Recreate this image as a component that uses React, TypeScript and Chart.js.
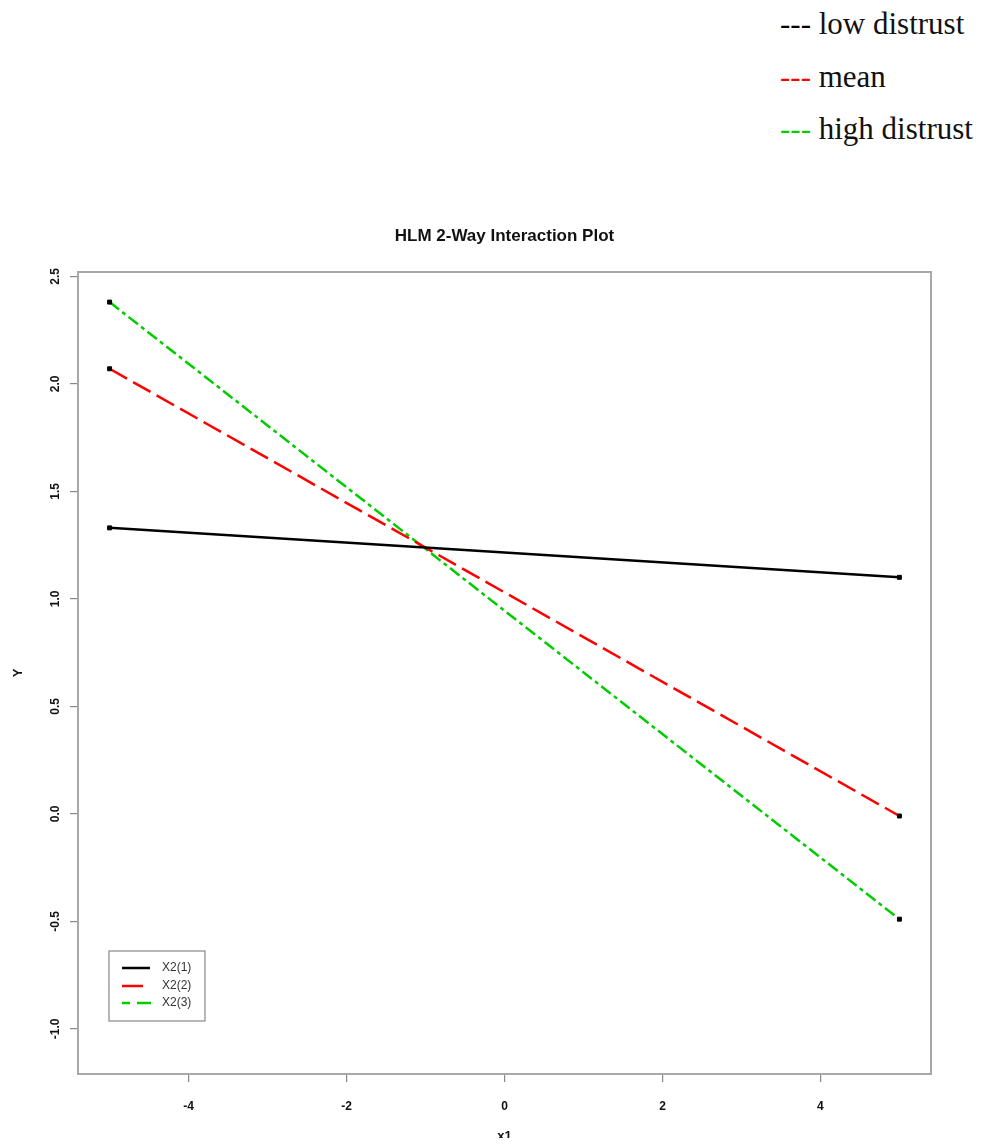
import React, { useEffect, useRef } from "react";
import { Chart, registerables } from "chart.js";

Chart.register(...registerables);

// ---- data ----
const titleText = "HLM 2-Way Interaction Plot";
const xAxisTitle = "x1";
const yAxisTitle = "Y";
const seriesLabels = ["X2(1)", "X2(2)", "X2(3)"];
const topLegendLabels = ["low distrust", "mean", "high distrust"];
const xValues = [-5, 5];
const lowDistrust = [1.33, 1.1];
const meanDistrust = [2.07, -0.01];
const highDistrust = [2.38, -0.49];
const xTicks = [-4, -2, 0, 2, 4];
const yTicks = [-1.0, -0.5, 0.0, 0.5, 1.0, 1.5, 2.0, 2.5];

// ---- styles ----
const seriesColors = ["#000000", "#ff0000", "#00cd00"];
const seriesDashes: number[][] = [[], [20, 7], [12, 4, 4, 4]];
const legendDashes: number[][] = [[], [], [8, 7, 14]];
const legendEnds = [150, 143, 151];
const SANS = "'Liberation Sans', Arial, Helvetica, sans-serif";

const rDecor = {
  id: "rDecor",
  afterDraw(chart: any) {
    const { ctx, chartArea: a, scales } = chart;
    ctx.save();
    // frame
    ctx.strokeStyle = "#a8a8a8";
    ctx.lineWidth = 2;
    ctx.setLineDash([]);
    ctx.strokeRect(a.left, a.top, a.right - a.left, a.bottom - a.top);

    // title
    ctx.fillStyle = "#111";
    ctx.textAlign = "center";
    ctx.textBaseline = "middle";
    ctx.font = `bold 17px ${SANS}`;
    ctx.fillText(titleText, (a.left + a.right) / 2, 36);

    // y tick labels (rotated, R style)
    ctx.font = `bold 12px ${SANS}`;
    yTicks.forEach((v) => {
      const y = scales.y.getPixelForValue(v);
      ctx.save();
      ctx.translate(56, y);
      ctx.rotate(-Math.PI / 2);
      ctx.fillText(v.toFixed(1), 0, 0);
      ctx.restore();
    });

    // axis titles
    ctx.font = `bold 13px ${SANS}`;
    ctx.fillText(xAxisTitle, (a.left + a.right) / 2, 936);
    ctx.save();
    ctx.translate(18, (a.top + a.bottom) / 2);
    ctx.rotate(-Math.PI / 2);
    ctx.fillText(yAxisTitle, 0, 0);
    ctx.restore();

    // inner legend
    const lx = 109, ly = 751, lw = 96, lh = 70;
    ctx.strokeStyle = "#888";
    ctx.lineWidth = 1.2;
    ctx.strokeRect(lx, ly, lw, lh);
    const rows = [768, 786, 803];
    ctx.font = `12px ${SANS}`;
    ctx.textAlign = "left";
    seriesLabels.forEach((lab, i) => {
      ctx.strokeStyle = seriesColors[i];
      ctx.lineWidth = 2.5;
      ctx.setLineDash(legendDashes[i]);
      ctx.beginPath();
      ctx.moveTo(122, rows[i]);
      ctx.lineTo(legendEnds[i], rows[i]);
      ctx.stroke();
      ctx.setLineDash([]);
      ctx.fillStyle = "#333";
      ctx.fillText(lab, 162, rows[i]);
    });
    ctx.restore();
  },
};

function ChartBox() {
  const ref = useRef<HTMLCanvasElement | null>(null);
  useEffect(() => {
    if (!ref.current) return;
    const series = [lowDistrust, meanDistrust, highDistrust];
    const chart = new Chart(ref.current, {
      type: "line",
      data: {
        datasets: series.map((vals, i) => ({
          label: seriesLabels[i],
          data: xValues.map((x, j) => ({ x, y: vals[j] })),
          borderColor: seriesColors[i],
          borderWidth: 2.5,
          borderDash: seriesDashes[i],
          pointStyle: "rect",
          pointRadius: 2.8,
          pointBackgroundColor: "#000",
          pointBorderColor: "#000",
          pointBorderWidth: 1,
          fill: false,
          tension: 0,
        })),
      },
      options: {
        responsive: false,
        animation: false,
        devicePixelRatio: 1,
        layout: { padding: { top: 72, right: 51, left: 0, bottom: 0 } },
        plugins: {
          legend: { display: false },
          title: { display: false },
          tooltip: { enabled: false },
        },
        scales: {
          x: {
            type: "linear",
            min: -5.4,
            max: 5.4,
            afterBuildTicks: (s: any) => {
              s.ticks = xTicks.map((v) => ({ value: v }));
            },
            afterFit: (s: any) => {
              s.height = 72;
            },
            grid: {
              display: true,
              drawOnChartArea: false,
              drawTicks: true,
              tickLength: 8,
              color: "#888",
              lineWidth: 1.2,
            },
            border: { display: true, color: "#999", width: 1 },
            ticks: {
              color: "#111",
              font: { family: SANS, size: 12, weight: "bold" },
              padding: 17,
              maxRotation: 0,
              minRotation: 0,
              callback: (v: any) => String(v),
            },
          },
          y: {
            type: "linear",
            min: -1.21,
            max: 2.52,
            afterBuildTicks: (s: any) => {
              s.ticks = yTicks.map((v) => ({ value: v }));
            },
            afterFit: (s: any) => {
              s.width = 78;
            },
            grid: {
              display: true,
              drawOnChartArea: false,
              drawTicks: true,
              tickLength: 8,
              color: "#888",
              lineWidth: 1.2,
            },
            border: { display: true, color: "#999", width: 1 },
            ticks: { display: false },
          },
        },
      },
      plugins: [rDecor],
    } as any);
    return () => chart.destroy();
  }, []);
  return (
    <canvas
      ref={ref}
      width={982}
      height={946}
      style={{ position: "absolute", left: 0, top: 200, width: 982, height: 946 }}
    />
  );
}

export default function App() {
  return (
    <div style={{ position: "relative", width: 982, height: 1146, margin: -8, background: "#fff", overflow: "hidden" }}>
      <div style={{ position: "absolute", left: 780, top: -2, fontFamily: "'Liberation Serif', 'Times New Roman', serif", fontSize: 31, lineHeight: "52.5px", whiteSpace: "nowrap" }}>
        {topLegendLabels.map((lab, i) => (
          <div key={lab}>
            <span style={{ color: seriesColors[i] }}>---</span>
            <span style={{ color: "#111" }}> {lab}</span>
          </div>
        ))}
      </div>
      <ChartBox />
    </div>
  );
}
